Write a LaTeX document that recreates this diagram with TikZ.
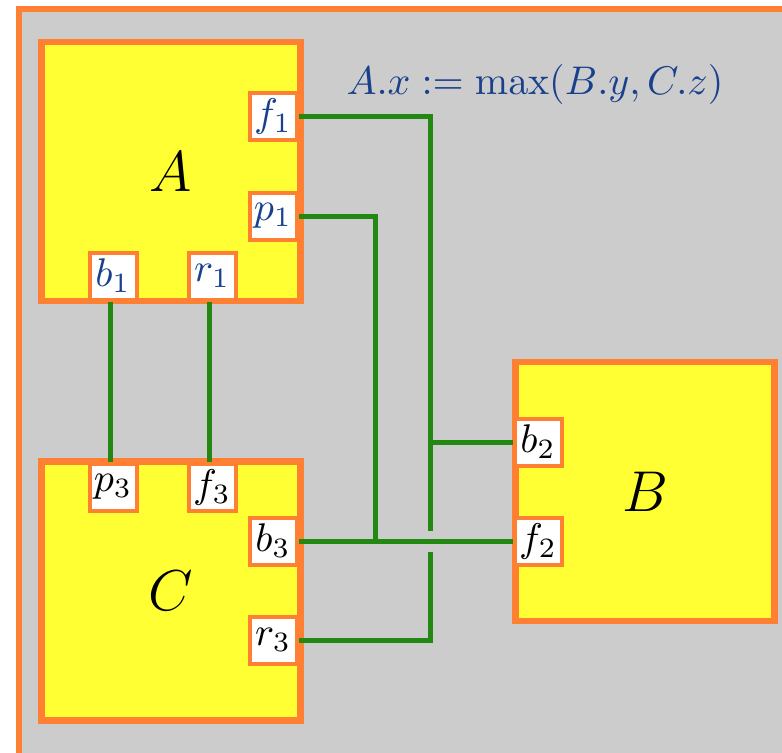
\documentclass[tikz,border=0pt]{standalone}
\definecolor{framegray}{RGB}{204,204,204}
\definecolor{edgeorange}{RGB}{255,128,51}
\definecolor{boxyellow}{RGB}{255,255,51}
\definecolor{wiregreen}{RGB}{34,136,17}
\definecolor{labelblue}{RGB}{25,64,140}
\tikzset{
  block/.style={draw=edgeorange,fill=boxyellow,line width=1.6pt,minimum size=64.75pt,inner sep=0pt,font=\Large},
  port/.style={draw=edgeorange,fill=white,line width=1pt,minimum size=11.75pt,inner sep=0pt},
  wire/.style={draw=wiregreen,line width=1.25pt},
}
\begin{document}
\begin{tikzpicture}[x=0.25pt,y=-0.25pt]
  % Page and frame
  \fill[white] (0,0) rectangle (782,752);
  \clip (0,0) rectangle (782,752);
  \draw[draw=edgeorange,fill=framegray,line width=1.5pt] (19,9) rectangle (786,756);

  % Components
  \node[block] (A) at (171,171.5) {$A$};
  \node[block] (B) at (645,491.5) {$B$};
  \node[block] (C) at (171,591) {$C$};

  % Constraint
  \node[inner sep=0pt,text=labelblue] (rule) at (535,84) {$A.x:=\max(B.y,C.z)$};

  % Ports
  \foreach \n/\x/\y/\t/\c in {
    f1/273/116/f_1/labelblue, p1/273/216/p_1/labelblue,
    b1/113/276/b_1/labelblue, r1/212/276/r_1/labelblue,
    p3/113/487/p_3/black, f3/212/487/f_3/black,
    b3/273/541/b_3/black, r3/273/640/r_3/black,
    b2/538/442/b_2/black, f2/538/541/f_2/black}{
    \node[port,text=\c] (\n) at (\x,\y) {$\t$};
  }

  % Wires
  \coordinate (hopT) at (430,531);
  \coordinate (hopB) at (430,552);
  \coordinate (join) at (375,541);
  \draw[wire] (f1.east) -| (hopT);
  \draw[wire] (hopB) |- (r3.east);
  \draw[wire] (b2.west) -- (b2.west -| hopT);
  \draw[wire] (p1.east) -| (join);
  \draw[wire] (b3.east) -- (f2.west);
  \draw[wire] ([xshift=-0.75pt]b1.south) -- ([xshift=-0.75pt]p3.north);
  \draw[wire] ([xshift=-0.75pt]r1.south) -- ([xshift=-0.75pt]f3.north);
\end{tikzpicture}
\end{document}
